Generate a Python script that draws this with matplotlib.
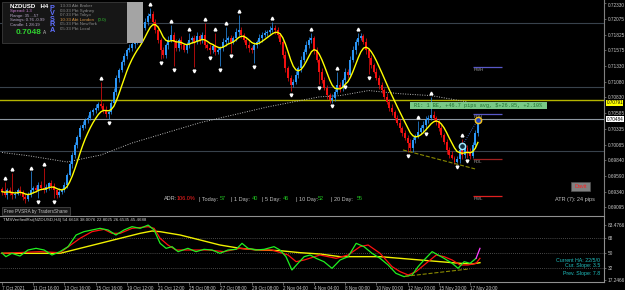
import numpy as np
import pandas as pd
import matplotlib
matplotlib.use("Agg")
import matplotlib.pyplot as plt
from matplotlib.patches import Rectangle

plt.rcParams['font.family'] = ['Liberation Sans', 'DejaVu Sans']

# NZDUSD H4 closes, one per bar
first_open = 0.6938
closes = [
    0.6934, 0.6929, 0.6937, 0.6932, 0.6928, 0.6931, 0.6937, 0.6934, 0.6926, 0.6923, 0.6929, 0.6937,
    0.6940, 0.6937, 0.6945, 0.6940, 0.6937, 0.6942, 0.6947, 0.6943, 0.6937, 0.6929, 0.6934, 0.6937,
    0.6945, 0.6961, 0.6977, 0.6992, 0.7008, 0.7021, 0.7035, 0.7040, 0.7048, 0.7051, 0.7060, 0.7064,
    0.7067, 0.7073, 0.7070, 0.7064, 0.7057, 0.7060, 0.7075, 0.7092, 0.7114, 0.7127, 0.7139, 0.7149,
    0.7158, 0.7161, 0.7168, 0.7171, 0.7177, 0.7180, 0.7193, 0.7203, 0.7212, 0.7215, 0.7203, 0.7190,
    0.7174, 0.7158, 0.7150, 0.7166, 0.7174, 0.7182, 0.7171, 0.7161, 0.7174, 0.7166, 0.7158, 0.7166,
    0.7174, 0.7177, 0.7171, 0.7180, 0.7174, 0.7182, 0.7166, 0.7161, 0.7158, 0.7165, 0.7155, 0.7158,
    0.7161, 0.7171, 0.7174, 0.7177, 0.7171, 0.7177, 0.7187, 0.7190, 0.7182, 0.7174, 0.7166, 0.7161,
    0.7158, 0.7166, 0.7171, 0.7177, 0.7182, 0.7185, 0.7187, 0.7190, 0.7193, 0.7190, 0.7182, 0.7171,
    0.7150, 0.7130, 0.7114, 0.7103, 0.7108, 0.7119, 0.7130, 0.7143, 0.7155, 0.7166, 0.7174, 0.7177,
    0.7158, 0.7143, 0.7124, 0.7111, 0.7098, 0.7087, 0.7079, 0.7082, 0.7092, 0.7103, 0.7098, 0.7111,
    0.7124, 0.7119, 0.7143, 0.7158, 0.7171, 0.7177, 0.7180, 0.7171, 0.7158, 0.7145, 0.7135, 0.7124,
    0.7114, 0.7103, 0.7095, 0.7084, 0.7076, 0.7067, 0.7060, 0.7051, 0.7043, 0.7035, 0.7027, 0.7019,
    0.7011, 0.7003, 0.7016, 0.7022, 0.7029, 0.7035, 0.7040, 0.7048, 0.7051, 0.7056, 0.7051, 0.7045,
    0.7035, 0.7024, 0.7013, 0.7000, 0.6992, 0.6988, 0.6981, 0.6985, 0.7000, 0.6992, 0.7003, 0.6997,
    0.6991, 0.7008, 0.7027, 0.7048,
]
upper_wick_pips = [
    4, 16, 3, 5, 32, 4, 3, 6, 2, 4, 5, 29, 3, 4, 5, 6, 32, 4, 3, 5, 4, 2, 6, 3,
    4, 3, 6, 4, 5, 3, 4, 6, 3, 5, 4, 3, 6, 3, 35, 4, 5, 3, 4, 6, 5, 3, 4, 5,
    3, 6, 4, 5, 3, 4, 6, 5, 4, 10, 5, 4, 6, 3, 5, 4, 6, 16, 5, 4, 3, 6, 4, 5,
    11, 4, 5, 6, 3, 5, 19, 4, 6, 3, 20, 5, 4, 6, 21, 3, 5, 4, 6, 24, 5, 3, 4, 6,
    4, 5, 3, 6, 4, 5, 3, 6, 10, 4, 5, 3, 4, 6, 3, 5, 4, 6, 3, 5, 4, 6, 5, 8,
    4, 5, 3, 6, 4, 5, 3, 6, 4, 20, 5, 3, 6, 4, 5, 6, 4, 8, 5, 3, 6, 4, 5, 3,
    6, 4, 5, 3, 6, 4, 5, 3, 4, 6, 3, 5, 4, 6, 5, 3, 17, 4, 6, 5, 4, 28, 5, 3,
    4, 6, 3, 5, 4, 6, 3, 5, 6, 18, 4, 5, 6, 4, 5, 4,
]
lower_wick_pips = [
    5, 4, 6, 3, 5, 4, 3, 6, 5, 7, 4, 3, 5, 4, 13, 4, 5, 3, 6, 4, 13, 5, 4, 3,
    4, 5, 3, 6, 4, 5, 3, 4, 6, 5, 3, 4, 5, 3, 4, 6, 5, 8, 3, 4, 5, 6, 3, 4,
    5, 3, 4, 6, 3, 5, 4, 3, 5, 4, 6, 5, 4, 14, 5, 4, 6, 3, 38, 5, 4, 6, 3, 5,
    4, 5, 40, 3, 6, 4, 5, 3, 6, 4, 5, 3, 25, 4, 6, 5, 17, 3, 4, 6, 5, 3, 4, 6,
    5, 20, 4, 3, 6, 4, 5, 3, 4, 6, 5, 3, 4, 6, 5, 10, 4, 3, 5, 6, 4, 3, 5, 4,
    6, 4, 20, 5, 3, 6, 4, 4, 5, 3, 6, 4, 6, 5, 3, 4, 6, 5, 3, 4, 6, 25, 5, 3,
    4, 6, 5, 3, 4, 6, 5, 3, 4, 6, 5, 3, 14, 4, 6, 5, 3, 4, 6, 8, 5, 3, 4, 6,
    5, 3, 4, 6, 5, 3, 4, 2, 5, 6, 4, 9, 5, 3, 4, 5,
]
swing_high_bars = [1, 4, 11, 16, 38, 57, 65, 72, 78, 82, 86, 91, 104, 119, 129, 137, 160, 165, 177]
swing_low_bars = [14, 20, 41, 61, 66, 74, 80, 84, 88, 97, 111, 122, 127, 132, 141, 156, 163, 175, 179]

# long (dotted) moving average
slow_ma_bars = [0, 10, 25, 38, 50, 76, 102, 122, 130, 141, 153, 165, 179]
slow_ma_values = [0.6996, 0.6991, 0.6981, 0.6992, 0.7011, 0.7043, 0.7068, 0.7084, 0.7086, 0.7094, 0.7089, 0.7086, 0.7076]

price_ticks = [0.72330, 0.72075, 0.71825, 0.71575, 0.71330, 0.71080, 0.70830, 0.70585,
               0.70335, 0.70085, 0.69840, 0.69590, 0.69340, 0.69095]
grid_levels = [0.7201, 0.7100, 0.6999]
pivot_level = 0.70791
bid_level = 0.70484
range_names = ['PWH', 'PDH', 'PDL', 'PWL']
range_levels = [0.71314, 0.70572, 0.69861, 0.69276]
range_colors = ['#5858c8', '#5858c8', '#a02020', '#e02020']
trend_bars = [154.2, 181.9]
trend_values = [0.7000, 0.6970]

date_label_bars = [0, 12, 24, 36, 48, 60, 72, 84, 96, 108, 120, 132, 144, 156, 168, 180]
date_labels = ['7 Oct 2021', '11 Oct 16:00', '13 Oct 16:00', '15 Oct 16:00', '19 Oct 12:00',
               '21 Oct 12:00', '25 Oct 08:00', '27 Oct 08:00', '29 Oct 08:00', '2 Nov 04:00',
               '4 Nov 04:00', '8 Nov 00:00', '10 Nov 00:00', '12 Nov 00:00', '15 Nov 20:00',
               '17 Nov 20:00']

# RSI sub window
green_bars = [0, 1.5, 3.8, 6.9, 10, 13.1, 16.2, 19.2, 22.3, 25.4, 28.5, 31.5, 34.6, 37.7, 40.8,
              43.8, 46.9, 50, 53.1, 56.2, 58.5, 60.8, 63.1, 65.4, 67.7, 71.5, 74.6, 77.7, 80.8,
              83.8, 86.9, 90, 92.3, 94.6, 97.7, 100.8, 104.6, 106.9, 109.2, 111.5, 113.8, 116.2,
              118.5, 120.8, 123.8, 126.9, 130, 133.1, 136.2, 139.2, 142.3, 145.4, 148.5, 151.5,
              154.6, 157.7, 160, 162.3, 165.4, 167.7, 170, 173.1, 175.4, 177.7, 180, 182.3, 183.8]
green_values = [50, 45.6, 49.6, 46.4, 53.6, 55.6, 53.6, 47.6, 51.6, 57.6, 71.6, 75.6, 77.6, 79.6,
                77.6, 71.6, 77.6, 81.6, 79.6, 83.5, 77.6, 61.6, 55.6, 57.6, 51.6, 55.6, 51.6, 54.4,
                53.6, 49.6, 53.6, 54.4, 61.6, 55.6, 53.6, 54.4, 57.6, 53.6, 45.6, 29.6, 37.6, 45.6,
                47.6, 43.6, 39.6, 31.6, 41.6, 45.6, 61.6, 57.6, 49.6, 43.6, 35.6, 25.6, 21.6, 23.6,
                33.6, 41.6, 51.6, 47.6, 43.6, 37.6, 31.6, 39.6, 37.6, 43.6, 55.6]
red_bars = [0, 14.6, 22.3, 30, 34.6, 39.2, 42.3, 45.4, 50, 56.2, 58.5, 60.8, 63.8, 66.9, 73.1,
            79.2, 85.4, 91.5, 97.7, 103.8, 110, 113.1, 116.2, 122.3, 128.5, 133.1, 137.7, 140.8,
            145.4, 150, 153.1, 156.2, 159.2, 162.3, 167, 170, 173.1, 176.2, 179.2, 182.3, 183.8]
red_values = [49.6, 51.6, 50.4, 67.6, 75.6, 78.4, 73.6, 73.6, 79.6, 81.6, 79.6, 67.6, 59.6, 53.6,
              53.6, 53.6, 51.6, 55.6, 53.6, 53.6, 47.6, 39.6, 41.6, 47.6, 43.6, 47.6, 57.6, 59.6,
              49.6, 33.6, 27.6, 23.6, 27.6, 35.6, 47.6, 45.6, 41.6, 35.6, 35.6, 37.6, 43.6]
yellow_bars = [0, 22.3, 30, 37.7, 45.4, 53.1, 57.7, 60.8, 68.5, 76.2, 83.8, 91.5, 99.2, 106.9,
               114.6, 122.3, 130, 137.7, 145.4, 153.1, 160.8, 168.5, 176.2, 180.8, 183.8]
yellow_values = [49.6, 49.6, 55.6, 61.6, 67.6, 73.6, 76.4, 75.6, 71.6, 65.6, 59.6, 55.6, 53.6, 52.8,
                 50.4, 48.8, 45.6, 45.6, 45.6, 43.6, 41.6, 39.6, 37.6, 36.8, 38.4]
rsi_trend_bars = [155, 180]
rsi_trend_values = [22, 31]
rsi_ticks = [17.2466, 32, 50, 68, 83.4766]

W, H = 625, 290
fig = plt.figure(figsize=(6.25, 2.9), dpi=100, facecolor='black')
ax = fig.add_axes([0, 75 / H, 604 / W, 215 / H], facecolor='black')
ax_rsi = fig.add_axes([0, 8 / H, 604 / W, 66 / H], facecolor='black')


def ftext(x, y, s, **kw):
    # place text by pixel position (from top left)
    kw.setdefault('va', 'center')
    kw.setdefault('fontsize', 4)
    fig.text(x / W, 1 - y / H, s, **kw)


def frect(x0, y0, x1, y1, **kw):
    fig.patches.append(Rectangle((x0 / W, 1 - y1 / H), (x1 - x0) / W, (y1 - y0) / H,
                                 transform=fig.transFigure, **kw))


# candles
close = np.array(closes)
open_ = np.concatenate([[first_open], close[:-1]])
high = np.maximum(open_, close) + np.array(upper_wick_pips) * 0.0001
low = np.minimum(open_, close) - np.array(lower_wick_pips) * 0.0001
bars = np.arange(len(close))
colors = np.where(close >= open_, '#2b95f5', '#f01010')

for lvl in grid_levels:
    ax.axhline(lvl, color='#38424c', lw=0.8, zorder=1)
ax.axhline(pivot_level, color='#b4b400', lw=1, zorder=1)
ax.axhline(bid_level, color='#8c96a0', lw=0.8, zorder=1)

ax.plot(slow_ma_bars, slow_ma_values, color='#b8b8b8', lw=0.7, ls=(0, (1, 1.5)), zorder=2)
ax.vlines(bars, low, high, colors=colors, lw=0.5, zorder=3)
ax.bar(bars, np.maximum(np.abs(close - open_), 0.00004), bottom=np.minimum(open_, close),
       width=0.75, color=colors, linewidth=0, zorder=3)

ma = pd.Series(close).ewm(span=4, adjust=False).mean().ewm(span=4, adjust=False).mean()
ax.plot(bars, ma, color='#ffff00', lw=1, zorder=4)

ax.plot(swing_high_bars, high[swing_high_bars] + 0.0006, ls='none', marker='^', ms=2,
        color='white', zorder=5)
ax.plot(swing_low_bars, low[swing_low_bars] - 0.0006, ls='none', marker='v', ms=2,
        color='white', zorder=5)

ax.plot(trend_bars, trend_values, color='#8a8a00', ls='--', lw=0.8, zorder=4)

for name, lvl, c in zip(range_names, range_levels, range_colors):
    ax.hlines(lvl, 181.2, 192.3, color=c, lw=0.9, zorder=4)
    ax.text(181.5, lvl - 0.00025, name, color='#a0a0a0', fontsize=3.2, va='top', zorder=5)

ax.plot([177, 183], [0.7007, 0.7048], color='#4080ff', ls=':', lw=0.6, zorder=5)
ax.plot(177, 0.7007, 'o', ms=4.5, mfc='#103040', mec='#a0e8ff', mew=1.1, zorder=6)
ax.plot(183, 0.7048, 'o', ms=4.5, mfc='#2040c0', mec='#f0c020', mew=1.1, zorder=6)

ax.set_xlim(-0.77, 231.5)
ax.set_ylim(0.689708, 0.723727)
ax.yaxis.tick_right()
ax.set_yticks(price_ticks)
ax.set_yticklabels([f'{v:.5f}' for v in price_ticks])
ax.tick_params(axis='y', colors='#808080', labelcolor='#c8c8c8', labelsize=3.4, length=1.5,
               width=0.5, pad=1)
for lab in ax.get_yticklabels()[:1]:
    lab.set_va('top')
ax.set_xticks([])
for side in ['left', 'top', 'bottom']:
    ax.spines[side].set_visible(False)
ax.spines['right'].set_color('#808080')
ax.spines['right'].set_linewidth(0.8)

# level tags on the price scale (pivot tag sits just under its line, as in MT4)
ax.text(1.004, pivot_level - 0.00045, f'{pivot_level:.5f}', transform=ax.get_yaxis_transform(),
        fontsize=3.3, color='black', va='center', ha='left',
        bbox=dict(facecolor='#ffff00', edgecolor='none', pad=0.3))
ax.text(1.004, bid_level, f'{bid_level:.5f}', transform=ax.get_yaxis_transform(),
        fontsize=3.3, color='black', va='center', ha='left',
        bbox=dict(facecolor='white', edgecolor='none', pad=0.3))

# RSI window
for lvl in [32, 50, 68]:
    ax_rsi.axhline(lvl, color='#606060', lw=0.6, ls=(0, (1, 1.5)))
ax_rsi.plot(yellow_bars, yellow_values, color='#f0f000', lw=1)
ax_rsi.plot(red_bars, red_values, color='#ff1010', lw=0.9)
ax_rsi.plot(green_bars[:-1], green_values[:-1], color='#20f020', lw=0.9)
ax_rsi.plot(green_bars[-2:], green_values[-2:], color='#ff40ff', lw=0.9)
ax_rsi.plot(rsi_trend_bars, rsi_trend_values, color='#8a8a00', ls='--', lw=0.8)
ax_rsi.set_xlim(-0.77, 231.5)
ax_rsi.set_ylim(15.2, 94.4)
ax_rsi.yaxis.tick_right()
ax_rsi.set_yticks(rsi_ticks)
ax_rsi.set_yticklabels(['17.2466', '32', '50', '68', '83.4766'])
ax_rsi.tick_params(axis='y', colors='#808080', labelcolor='#c8c8c8', labelsize=3.4, length=1.5,
                   width=0.5, pad=1)
ax_rsi.set_xticks(date_label_bars)
ax_rsi.set_xticklabels(date_labels)
ax_rsi.tick_params(axis='x', colors='#808080', labelcolor='#c8c8c8', labelsize=3.3, length=2,
                   width=0.5, pad=0.6)
for lab in ax_rsi.get_xticklabels():
    lab.set_ha('left')
ax_rsi.spines['left'].set_visible(False)
for side in ['top', 'right', 'bottom']:
    ax_rsi.spines[side].set_color('#909090')
    ax_rsi.spines[side].set_linewidth(0.8)

ftext(3, 220, 'TMSVerifiedRsi(NZDUSD,H4) 54.6618 38.0076 22.8025 26.6535 45.4688',
      color='#d0d0d0', fontsize=3.2)
ftext(600, 260, 'Current HA: 22/5/0', color='#20c0c0', ha='right', fontsize=3.8)
ftext(600, 266, 'Cur. Slope: 3.5', color='#20c0c0', ha='right', fontsize=3.8)
ftext(600, 273, 'Prev. Slope: 7.8', color='#20c0c0', ha='right', fontsize=3.8)

# info panel top left
frect(2, 2, 127, 43, facecolor='#161616', edgecolor='#3a3a3a', lw=0.6, zorder=10)
frect(127, 2, 143, 43, facecolor='#a4a4a4', edgecolor='none', zorder=10)
ftext(10, 6, 'NZDUSD   H4', color='white', fontsize=4.4, fontweight='bold', zorder=11)
ftext(10, 11, 'Spread: 1.3', color='#d080d8', fontsize=3.1, zorder=11)
ftext(10, 15.5, 'Range: 35 ...57', color='#b8a8c8', fontsize=3.1, zorder=11)
ftext(10, 20, 'Swings: 0.76 -0.99', color='#b8a8c8', fontsize=3.1, zorder=11)
ftext(10, 25, 'Candle: 1 28:19', color='#b8a8c8', fontsize=3.1, zorder=11)
ftext(16, 32.5, '0.7048', color='#30d030', fontsize=6, fontweight='bold', zorder=11)
ftext(43, 32.5, 'A', color='#c0c0c0', fontsize=3.4, zorder=11)
for i, ch in enumerate('PVSRA'):
    ftext(52, 8 + i * 5.6, ch, color='#6070ff', fontsize=5.2, fontweight='bold',
          ha='center', zorder=11)
session_lines = ['13:33 Abt Broker', '03:33 Pbt Sydney', '07:33 Pbt Tokyo',
                 '10:33 Abt London', '05:33 Pbt NewYork', '05:33 Pbt Local']
for i, s in enumerate(session_lines):
    c = '#d09040' if 'London' in s else '#8a8a8a'
    ftext(60, 6 + i * 4.6, s, color=c, fontsize=3.2, zorder=11)
ftext(98, 6 + 3 * 4.6, '(0.0)', color='#30c030', fontsize=3.2, zorder=11)

# ADR / ATR readouts
adr_parts = [(164, 'ADR:', '#c0c0c0'), (177, '106.0%', '#ff2020'), (199, '| Today:', '#c0c0c0'),
             (220, '57', '#20c020'), (231, '| 1 Day:', '#c0c0c0'), (252, '40', '#20c020'),
             (262, '| 5 Day:', '#c0c0c0'), (283, '46', '#20c020'), (296, '| 10 Day:', '#c0c0c0'),
             (318, '52', '#20c020'), (331, '| 20 Day:', '#c0c0c0'), (357, '55', '#20c020')]
for x, s, c in adr_parts:
    ftext(x, 199, s, color=c, fontsize=4)
ftext(555, 199, 'ATR (7): 24 pips', color='#c0c0c0', fontsize=4)
frect(571, 182, 590, 191, facecolor='#808080', edgecolor='#505050', lw=0.5)
ftext(580.5, 186.5, 'Davit', color='#ff2020', fontsize=4, ha='center')

frect(2, 207, 70, 215, facecolor='#161616', edgecolor='#505050', lw=0.5)
ftext(4, 211, 'Free PVSRA by TradersShane', color='#c0c0c0', fontsize=3.3)

# position summary box
frect(410, 102, 547, 109, facecolor='#86e096', edgecolor='none', alpha=0.9, zorder=8)
ftext(414, 105.5, 'R1: 1 BE, +46.7 pips avg, $+26.85, +2.10%', color='#207030',
      fontsize=3.8, family='Liberation Mono', zorder=9)

fig.savefig('out.png', dpi=100, facecolor='black')
